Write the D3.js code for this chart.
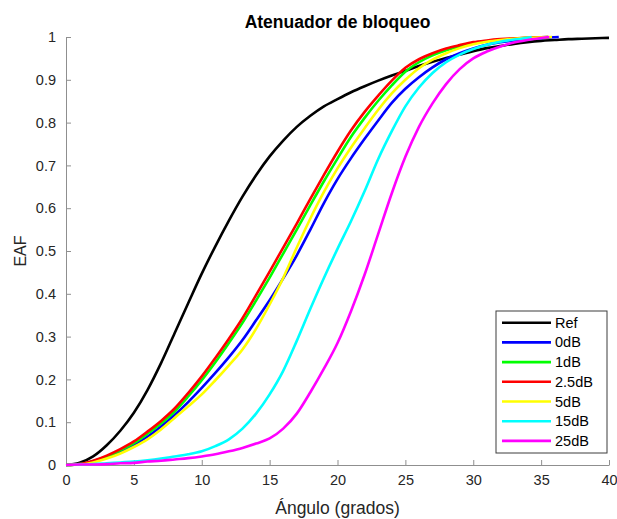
<!DOCTYPE html>
<html>
<head>
<meta charset="utf-8">
<script src="https://cdn.jsdelivr.net/npm/d3@7"></script>
<style>
  body { margin: 0; background: #fff; }
  text { font-family: "Liberation Sans", Arial, sans-serif; }
</style>
</head>
<body>
<div id="plot"></div>
<script>
// ---------- Datos ---------- //
var refAngulos = [0,1,2,3,4,5,6,7,8,9,10,11,12,13,14,15,16,17,18,19,20,
                  21,22,23,24,25,26,27,28,29,30,31,32,33,34,35,36,37,38,39,40];
var refEAF = [0,0.005,0.02,0.046,0.08,0.122,0.175,0.238,0.308,0.378,0.447,0.511,0.571,0.627,0.677,
              0.721,0.758,0.79,0.816,0.838,0.855,0.871,0.885,0.898,0.91,0.921,0.932,0.942,0.951,
              0.959,0.967,0.974,0.979,0.984,0.988,0.991,0.993,0.995,0.996,0.997,0.998];

var angulos = [0,1,2,3,4,5,6,7,8,9,10,11,12,13,14,15,16,17,18,19,20,
               21,22,23,24,25,26,27,28,29,30,31,32,33,34];

var eaf0dB = [0,0.002,0.008,0.018,0.031,0.047,0.066,0.09,0.117,0.147,0.18,0.215,0.252,0.292,0.338,
              0.385,0.436,0.49,0.55,0.612,0.668,0.717,0.762,0.805,0.846,0.879,0.906,0.929,0.948,
              0.962,0.973,0.982,0.988,0.992,0.995];
var eaf1dB = [0,0.002,0.009,0.02,0.034,0.051,0.073,0.097,0.125,0.16,0.198,0.24,0.285,0.332,0.384,
              0.438,0.494,0.55,0.607,0.663,0.716,0.767,0.811,0.851,0.887,0.919,0.941,0.957,0.969,
              0.978,0.985,0.99,0.993,0.996,0.998];
var eaf25dB = [0,0.002,0.01,0.022,0.037,0.055,0.078,0.103,0.132,0.168,0.207,0.25,0.295,0.343,0.397,
               0.452,0.508,0.564,0.622,0.678,0.732,0.782,0.825,0.863,0.898,0.928,0.948,0.962,0.973,
               0.981,0.988,0.992,0.995,0.997,0.998];
var eaf5dB = [0,0.001,0.006,0.015,0.027,0.042,0.06,0.083,0.11,0.137,0.165,0.198,0.233,0.27,0.318,
              0.375,0.437,0.508,0.576,0.638,0.693,0.742,0.787,0.83,0.868,0.9,0.927,0.947,0.962,
              0.974,0.983,0.989,0.993,0.996,0.998];
var eaf15dB = [0,0.001,0.002,0.004,0.006,0.008,0.011,0.015,0.02,0.025,0.032,0.044,0.06,0.085,0.12,
               0.165,0.22,0.29,0.365,0.437,0.505,0.57,0.64,0.715,0.78,0.838,0.882,0.916,0.941,
               0.959,0.972,0.982,0.989,0.994,0.998];
var eaf25dBm = [0,0.001,0.001,0.002,0.004,0.005,0.008,0.01,0.013,0.016,0.02,0.025,0.032,0.04,0.05,
                0.062,0.085,0.12,0.17,0.225,0.285,0.36,0.445,0.54,0.635,0.72,0.79,0.845,0.89,
                0.925,0.95,0.966,0.978,0.987,0.993];

// angulo donde cada curva llega a 1
var finales = [36.3, 35.5, 35.5, 35.8, 34.3, 35.6];

var nombres = ["Ref", "0dB", "1dB", "2.5dB", "5dB", "15dB", "25dB"];
var colores = ["#000000", "#0000ff", "#00ff00", "#ff0000", "#ffff00", "#00ffff", "#ff00ff"];

var xTicks = [0,5,10,15,20,25,30,35,40];
var yTicks = [0,0.1,0.2,0.3,0.4,0.5,0.6,0.7,0.8,0.9,1];

// ---------- Grafico ---------- //
var width = 617;
var height = 519;
var margin = { top: 37, right: 8, bottom: 54, left: 66 };

var x = d3.scaleLinear().domain([0, 40]).range([margin.left, width - margin.right]);
var y = d3.scaleLinear().domain([0, 1]).range([height - margin.bottom, margin.top]);

var curvas = [eaf0dB, eaf1dB, eaf25dB, eaf5dB, eaf15dB, eaf25dBm];
var series = [refAngulos.map((a, i) => [a, refEAF[i]])];
curvas.forEach(function(c, k) {
  var pts = angulos.map((a, i) => [a, c[i]]);
  pts.push([finales[k], 1]);
  series.push(pts);
});

var svg = d3.select("#plot").append("svg")
  .attr("width", width)
  .attr("height", height);

var axisColor = "#8f8f8f";
var textColor = "#262626";

var xAxis = g => g
  .attr("transform", `translate(0,${height - margin.bottom})`)
  .call(d3.axisBottom(x).tickValues(xTicks).tickSizeInner(-5).tickSizeOuter(0).tickPadding(10))
  .call(g => g.selectAll(".domain, line").attr("stroke", axisColor))
  .call(g => g.selectAll("text").attr("fill", textColor).attr("font-size", 14.5)
                .attr("font-family", "Liberation Sans, Arial, sans-serif"));

var yAxis = g => g
  .attr("transform", `translate(${margin.left},0)`)
  .call(d3.axisLeft(y).tickValues(yTicks).tickFormat(d3.format("~g")).tickSizeInner(-5).tickSizeOuter(0).tickPadding(10))
  .call(g => g.selectAll(".domain, line").attr("stroke", axisColor))
  .call(g => g.selectAll("text").attr("fill", textColor).attr("font-size", 14.5)
                .attr("font-family", "Liberation Sans, Arial, sans-serif"));

svg.append("g").call(xAxis);
svg.append("g").call(yAxis);

var line = d3.line()
  .x(d => x(d[0]))
  .y(d => y(d[1]))
  .curve(d3.curveMonotoneX);

svg.append("g")
  .attr("fill", "none")
  .attr("stroke-width", 2.6)
  .selectAll("path")
  .data(series)
  .join("path")
  .attr("stroke", (d, i) => colores[i])
  .attr("d", line);

// titulo y etiquetas
svg.append("text")
  .attr("x", (margin.left + width - margin.right) / 2)
  .attr("y", 28)
  .attr("text-anchor", "middle")
  .attr("font-size", 17.5)
  .attr("font-weight", "bold")
  .attr("fill", "#000")
  .text("Atenuador de bloqueo");

svg.append("text")
  .attr("x", (margin.left + width - margin.right) / 2)
  .attr("y", 514)
  .attr("text-anchor", "middle")
  .attr("font-size", 17.5)
  .attr("fill", textColor)
  .text("Ángulo (grados)");

svg.append("text")
  .attr("transform", `translate(26,${(margin.top + height - margin.bottom) / 2}) rotate(-90)`)
  .attr("text-anchor", "middle")
  .attr("font-size", 16)
  .attr("fill", textColor)
  .text("EAF");

// leyenda
var leg = svg.append("g").attr("transform", "translate(496,311)");
leg.append("rect")
  .attr("width", 111)
  .attr("height", 142)
  .attr("fill", "#fff")
  .attr("stroke", "#3c3c3c")
  .attr("stroke-width", 1);

var item = leg.selectAll("g.item")
  .data(nombres)
  .join("g")
  .attr("class", "item")
  .attr("transform", (d, i) => `translate(0,${11.7 + i * 19.7})`);

item.append("line")
  .attr("x1", 6).attr("x2", 55)
  .attr("stroke", (d, i) => colores[i])
  .attr("stroke-width", 2.6);

item.append("text")
  .attr("x", 59)
  .attr("dy", "0.35em")
  .attr("font-size", 14.5)
  .attr("fill", "#000")
  .text(d => d);
</script>
</body>
</html>
